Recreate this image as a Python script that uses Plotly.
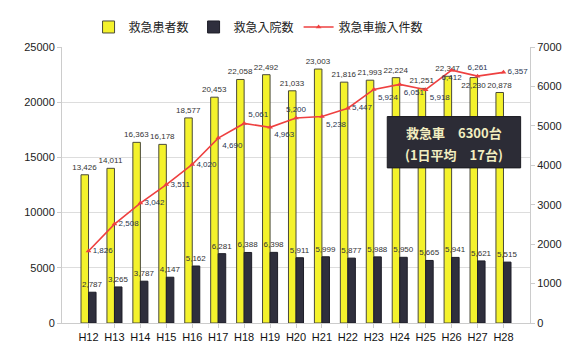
import plotly.graph_objects as go

# Fiscal years (Heisei)
years = ["H12", "H13", "H14", "H15", "H16", "H17", "H18", "H19", "H20",
         "H21", "H22", "H23", "H24", "H25", "H26", "H27", "H28"]

# Emergency patients (left axis)
patients = [13426, 14011, 16363, 16178, 18577, 20453, 22058, 22492, 21033,
            23003, 21816, 21993, 22224, 21251, 22347, 22230, 20878]

# Emergency admissions (left axis)
admissions = [2787, 3265, 3787, 4147, 5162, 6281, 6388, 6398, 5911,
              5999, 5877, 5988, 5950, 5665, 5941, 5621, 5515]

# Ambulance arrivals (right axis)
ambulance = [1826, 2508, 3042, 3511, 4020, 4690, 5061, 4963, 5200,
             5238, 5447, 5924, 6051, 5918, 6412, 6261, 6357]

left_ticks = [0, 5000, 10000, 15000, 20000, 25000]
right_ticks = [0, 1000, 2000, 3000, 4000, 5000, 6000, 7000]

JP = "Noto Sans CJK JP"
NUM = "Liberation Sans"

line_pos = ["middle right", "middle right", "middle right", "middle right",
            "middle right", "bottom right", "top right", "bottom right",
            "top center", "bottom right", "middle right", "bottom right",
            "bottom right", "bottom right", "bottom center", "top center",
            "middle right"]

# H27 label sits just inside the bar top so it stays clear of the line label
patient_pos = ["outside"] * 15 + ["inside", "outside"]

fig = go.Figure()

fig.add_trace(go.Bar(
    x=years, y=patients, name="救急患者数",
    marker=dict(color="#f4f22c", line=dict(color="#4a4a3a", width=1)),
    text=[f"{v:,}" for v in patients], textposition=patient_pos,
    insidetextanchor="end", constraintext="none", textangle=0,
    textfont=dict(family=NUM, size=8, color="#333333"),
    insidetextfont=dict(family=NUM, size=8, color="#333333"),
    cliponaxis=False,
))

fig.add_trace(go.Bar(
    x=years, y=admissions, name="救急入院数",
    marker=dict(color="#2f2f3d", line=dict(color="#1e1e28", width=1)),
    text=[f"{v:,}" for v in admissions], textposition="outside",
    constraintext="none", textangle=0,
    textfont=dict(family=NUM, size=8, color="#333333"),
    cliponaxis=False,
))

fig.add_trace(go.Scatter(
    x=years, y=ambulance, name="救急車搬入件数", yaxis="y2",
    mode="lines+markers+text",
    line=dict(color="#ee4040", width=1.6),
    marker=dict(color="#ee4040", size=5, symbol="triangle-up"),
    text=[f"{v:,}" for v in ambulance], textposition=line_pos,
    textfont=dict(family=NUM, size=8, color="#2a3550"),
    cliponaxis=False,
))

# Summary box
fig.add_shape(
    type="rect", xref="paper", yref="paper",
    x0=0.695, x1=0.98, y0=0.562, y1=0.748,
    fillcolor="#2c2c36", line=dict(color="#1c1c22", width=1), layer="above",
)
fig.add_annotation(
    xref="paper", yref="paper", x=0.8375, y=0.69,
    xanchor="center", yanchor="middle",
    text="<b>救急車　6300台</b>", showarrow=False,
    font=dict(family=JP, size=13, color="#f2eec0"),
)
fig.add_annotation(
    xref="paper", yref="paper", x=0.8375, y=0.61,
    xanchor="center", yanchor="middle",
    text="<b>(1日平均　17台)</b>", showarrow=False,
    font=dict(family=JP, size=13, color="#f2eec0"),
)

fig.update_layout(
    width=579, height=355,
    margin=dict(l=62, r=49, t=38, b=27),
    paper_bgcolor="white", plot_bgcolor="white",
    barmode="group", bargap=0.42, bargroupgap=0.0,
    showlegend=True,
    legend=dict(orientation="h", x=0.42, xanchor="center", y=1.02,
                yanchor="bottom", font=dict(family=JP, size=12, color="#222"),
                itemwidth=30, tracegroupgap=0, bgcolor="rgba(0,0,0,0)"),
    xaxis=dict(
        tickfont=dict(family=NUM, size=11, color="#111"),
        showline=True, linecolor="#cccccc", ticks="outside",
        tickcolor="#cccccc", ticklen=4, showgrid=False,
    ),
    yaxis=dict(
        range=[0, 25000], tickvals=left_ticks, tickformat="d",
        tickfont=dict(family=NUM, size=11, color="#222"),
        showgrid=True, gridcolor="#dddddd", gridwidth=1,
        showline=True, linecolor="#cccccc", ticks="outside",
        tickcolor="#cccccc", ticklen=4, zeroline=False,
    ),
    yaxis2=dict(
        range=[0, 7000], tickvals=right_ticks, tickformat="d",
        overlaying="y", side="right",
        tickfont=dict(family=NUM, size=11, color="#222"),
        showgrid=False, showline=True, linecolor="#cccccc",
        ticks="outside", tickcolor="#cccccc", ticklen=4, zeroline=False,
    ),
)

fig.write_html("out.html")
